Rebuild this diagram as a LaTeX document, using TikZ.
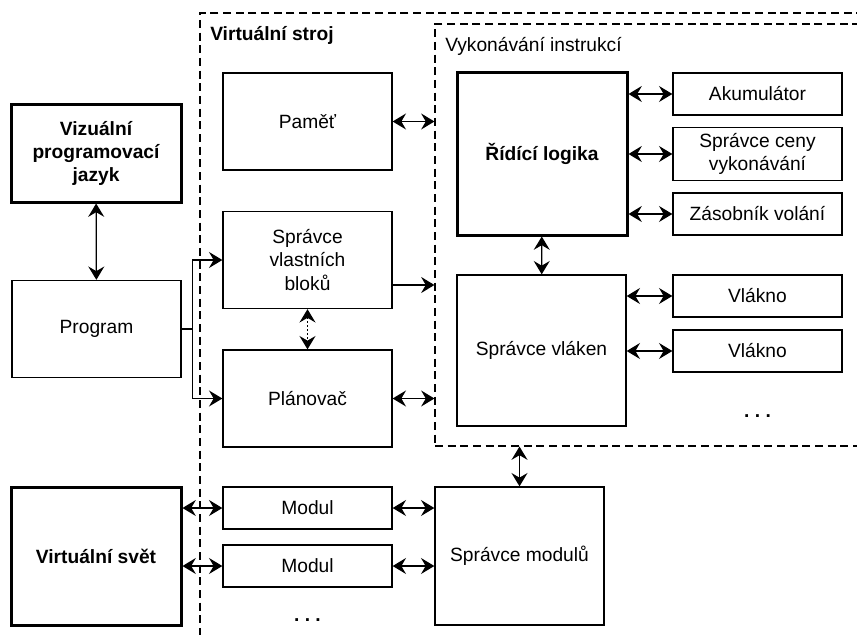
\documentclass[tikz,border=0pt]{standalone}
\usepackage{fontspec}
\setmainfont{Liberation Sans}
\usetikzlibrary{arrows.meta}

\tikzset{
  blok/.style={draw, line width=1pt, minimum width=126.75pt, minimum height=72.75pt,
    inner sep=1pt, align=center, font=\fontsize{14.4}{17.5}\selectfont},
  tlusty/.style={blok, line width=2.25pt, font=\fontsize{14.4}{17.5}\selectfont\bfseries},
  maly/.style={blok, minimum height=31.5pt},
  ramec/.style={draw, line width=0.8pt, dash pattern=on 6pt off 3.5pt, inner sep=0pt},
  popis/.style={inner sep=0pt, font=\fontsize{14.4}{17.5}\selectfont},
  obousm/.style={line width=1pt, <->},
  jednosm/.style={line width=1pt, ->}
}

\begin{document}
\begin{tikzpicture}[x=0.75pt,y=0.75pt,yscale=-1,xscale=1,>={Stealth[length=10pt,width=12pt,inset=3.5pt]}]
\useasboundingbox (0,0) rectangle (857,635);
\clip (0,0) rectangle (857,635);

%=====Ramce=======
\node [ramec, minimum width=510pt, minimum height=485.25pt] (stroj) at (540,336.5) {};
\node [ramec, minimum width=333.75pt, minimum height=316.5pt] (vyk) at (657.5,235) {};

\node [popis, font=\fontsize{14.4}{17.5}\selectfont\bfseries, anchor=west] (strojpopis) at (210,35) {Virtuální stroj};
\node [popis, anchor=west] (vykpopis) at (445,46) {Vykonávání instrukcí};

%=====Bloky=======
\node [tlusty, minimum width=127.5pt] (vpj) at (96,153.5) {Vizuální\\programovací\\jazyk};
\node [blok] (prog) at (96.5,329) {Program};
\node [tlusty, minimum width=127.5pt, minimum height=103.5pt] (vs) at (96,556) {Virtuální svět};

\node [blok] (pamet) at (307.5,121.5) {Paměť};
\node [blok] (svb) at (307.5,260) {Správce\\vlastních\\bloků};
\node [blok] (plan) at (307.5,398.5) {Plánovač};
\node [maly] (modul1) at (307.5,508) {Modul};
\node [maly] (modul2) at (307.5,566) {Modul};
\node [popis, anchor=base, font=\fontsize{14.4}{17.5}\selectfont\bfseries] (tecky1) at (307.5,621) {.\kern4pt.\kern4pt.};

\node [tlusty, minimum width=127.5pt, minimum height=121.5pt] (rl) at (542,154) {Řídící logika};
\node [blok, minimum height=113.25pt] (sv) at (541.5,350.5) {Správce vláken};
\node [blok, minimum height=103.5pt] (sm) at (519.5,556) {Správce modulů};

\node [maly] (aku) at (757.5,94) {Akumulátor};
\node [maly, minimum height=39.75pt] (scv) at (757.5,154) {Správce ceny\\vykonávání};
\node [maly] (zv) at (757.5,214) {Zásobník volání};
\node [maly] (vl1) at (757.5,296) {Vlákno};
\node [maly] (vl2) at (757.5,351) {Vlákno};
\node [popis, anchor=base, font=\fontsize{14.4}{17.5}\selectfont\bfseries] (tecky2) at (757.5,417) {.\kern4pt.\kern4pt.};

%=====Sipky=======
\draw [obousm] (vpj) -- (prog);
\draw [jednosm] (prog.east) -- ++(11,0) |- (svb.west);
\draw [jednosm] (prog.east) -- ++(11,0) |- (plan.west);
\draw [obousm, dotted] (svb) -- (plan);

\draw [obousm] (pamet.east) -- (pamet.east -| vyk.west);
\coordinate (svbven) at ([yshift=18.75pt]svb.east);
\draw [jednosm] (svbven) -- (svbven -| vyk.west);
\draw [obousm] (plan.east) -- (plan.east -| vyk.west);

\draw [obousm] (aku.west -| rl.east) -- (aku.west);
\draw [obousm] (scv.west -| rl.east) -- (scv.west);
\draw [obousm] (zv.west -| rl.east) -- (zv.west);
\draw [obousm] (rl) -- (sv);
\draw [obousm] (vl1.west -| sv.east) -- (vl1.west);
\draw [obousm] (vl2.west -| sv.east) -- (vl2.west);

\draw [obousm] (sm.north |- vyk.south) -- (sm.north);
\draw [obousm] (modul1.west -| vs.east) -- (modul1.west);
\draw [obousm] (modul2.west -| vs.east) -- (modul2.west);
\draw [obousm] (modul1.east) -- (modul1.east -| sm.west);
\draw [obousm] (modul2.east) -- (modul2.east -| sm.west);

\end{tikzpicture}
\end{document}
